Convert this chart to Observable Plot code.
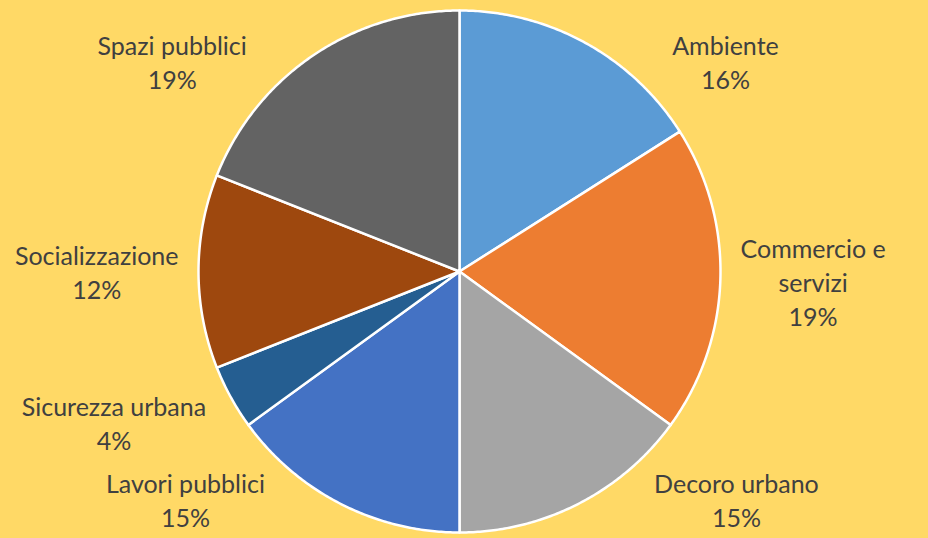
<!DOCTYPE html>
<html><head><meta charset="utf-8">
<script src="https://cdn.jsdelivr.net/npm/d3@7"></script>
<script src="https://cdn.jsdelivr.net/npm/@observablehq/plot@0.6"></script>
<style>html,body{margin:0;padding:0;background:#FFD966;overflow:hidden;}</style>
</head><body><div id="chart"></div>
<script>
// ---- data ----
const categories = ["Ambiente","Commercio e servizi","Decoro urbano","Lavori pubblici","Sicurezza urbana","Socializzazione","Spazi pubblici"];
const shares = [16,19,15,15,4,12,19];
const labelLines = [["Ambiente"],["Commercio e","servizi"],["Decoro urbano"],["Lavori pubblici"],["Sicurezza urbana"],["Socializzazione"],["Spazi pubblici"]];
const colors = ["#5B9BD5","#ED7D31","#A5A5A5","#4472C4","#255E91","#9E480E","#636363"];

// ---- layout ----
const W = 928, H = 538, CX = 459, CY = 271, R = 261;
const FONT = "Lato", FS = 25, LH = 1.36, GAP = 20;

const rows = categories.map((c,i)=>({category:c, share:shares[i], lines:labelLines[i]}));
const arcs = d3.pie().sort(null).value(d=>d.share)(rows);

// slice outlines in data units (unit circle)
const pts = [];
arcs.forEach(a=>{
  const c = a.data.category;
  pts.push({category:c, x:0, y:0});
  const n = Math.max(2, Math.ceil((a.endAngle-a.startAngle)/(Math.PI/360)));
  for (let k=0;k<=n;k++){
    const t = a.startAngle + (a.endAngle-a.startAngle)*k/n;
    pts.push({category:c, x:Math.sin(t), y:Math.cos(t)});
  }
  pts.push({category:c, x:0, y:0});
});

// label placement rule (outside end, clear of the circle)
const ctx = document.createElement("canvas").getContext("2d");
ctx.font = `${FS}px ${FONT}`;
const labels = arcs.map(a=>{
  const lines = [...a.data.lines, a.data.share + "%"];
  const w = d3.max(lines, l=>ctx.measureText(l).width);
  const h = lines.length*FS*LH;
  const th = (a.startAngle+a.endAngle)/2;
  let yc = CY - 1.2*R*Math.cos(th);
  yc = Math.max(h/2+27, Math.min(H-h/2-5, yc));
  const top = yc-h/2, bot = yc+h/2;
  const dmin = (top<=CY && bot>=CY) ? 0 : Math.min(Math.abs(top-CY), Math.abs(bot-CY));
  const half = dmin<R ? Math.sqrt(R*R-dmin*dmin) : 0;
  const side = Math.sin(th)>=0 ? 1 : -1;
  const xc = CX + side*(half+GAP+w/2);
  return {text: lines.join("\n"), x:(xc-CX)/R, y:(CY-yc)/R};
});

const plot = Plot.plot({
  width: W, height: H, margin: 0,
  style: {background:"#FFD966", fontFamily: FONT},
  x: {domain:[-CX/R,(W-CX)/R], range:[0,W], axis:null},
  y: {domain:[-(H-CY)/R, CY/R], range:[H,0], axis:null},
  color: {domain: categories, range: colors},
  marks: [
    Plot.line(pts, {x:"x", y:"y", z:"category", fill:"category", stroke:"white", strokeWidth:2.5, strokeLinejoin:"round"}),
    Plot.text(labels, {x:"x", y:"y", text:"text", fontSize:FS, lineHeight:LH, fill:"#404040", textAnchor:"middle"})
  ]
});
document.getElementById("chart").append(plot);
</script>
</body></html>
